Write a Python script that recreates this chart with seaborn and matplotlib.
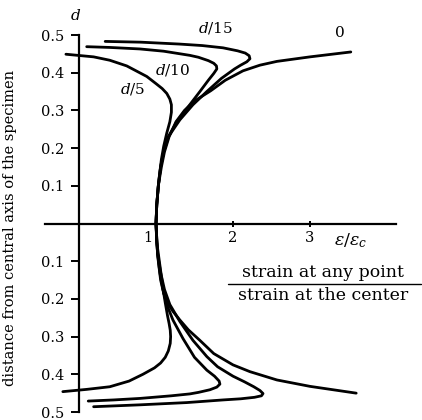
import matplotlib
matplotlib.use("Agg")
import matplotlib.pyplot as plt
import matplotlib.transforms as mtransforms
import seaborn as sns

# ---- data ----
# curve "0" (uniform case)
c0_x = [3.60, 3.00, 2.57, 2.22, 2.00, 1.75, 1.57, 1.42, 1.31, 1.22, 1.15, 1.10, 1.06, 1.03, 1.01, 1.00,
        1.01, 1.03, 1.07, 1.11, 1.17, 1.26, 1.37, 1.50, 1.71, 1.90, 2.13, 2.35, 2.57, 3.00, 3.53]
c0_y = [-0.450, -0.432, -0.415, -0.393, -0.375, -0.345, -0.310, -0.282, -0.256, -0.233, -0.21, -0.185, -0.15, -0.10, -0.05, 0.0,
        0.05, 0.10, 0.15, 0.19, 0.23, 0.27, 0.30, 0.325, 0.352, 0.380, 0.405, 0.420, 0.430, 0.442, 0.455]

# curve d/15
c15_x = [0.19, 0.79, 1.40, 1.87, 2.10, 2.28, 2.37, 2.39, 2.35, 2.27, 2.15, 2.00, 1.80, 1.66, 1.48, 1.31, 1.18, 1.11, 1.06, 1.02, 1.00,
         1.01, 1.03, 1.06, 1.10, 1.16, 1.31, 1.48, 1.66, 1.85, 2.02, 2.10, 2.18, 2.22, 2.21, 2.16, 2.06, 1.87, 1.60, 1.30, 0.80, 0.34]
c15_y = [-0.486, -0.481, -0.475, -0.468, -0.465, -0.461, -0.457, -0.451, -0.443, -0.433, -0.420, -0.405, -0.380, -0.353, -0.31, -0.26, -0.215, -0.175, -0.13, -0.08, 0.0,
         0.05, 0.10, 0.15, 0.19, 0.23, 0.275, 0.315, 0.350, 0.385, 0.410, 0.420, 0.429, 0.437, 0.445, 0.452, 0.458, 0.466, 0.472, 0.476, 0.481, 0.483]

# curve d/10
c10_x = [0.12, 0.45, 0.79, 1.20, 1.44, 1.55, 1.70, 1.79, 1.83, 1.82, 1.76, 1.66, 1.50, 1.35, 1.22, 1.14, 1.09, 1.05, 1.02, 1.00,
         1.01, 1.03, 1.06, 1.10, 1.16, 1.27, 1.42, 1.57, 1.68, 1.75, 1.79, 1.785, 1.75, 1.68, 1.55, 1.44, 1.10, 0.79, 0.40, 0.10]
c10_y = [-0.471, -0.468, -0.464, -0.457, -0.452, -0.448, -0.441, -0.434, -0.426, -0.418, -0.405, -0.389, -0.355, -0.305, -0.256, -0.215, -0.175, -0.13, -0.08, 0.0,
         0.05, 0.10, 0.15, 0.19, 0.23, 0.27, 0.31, 0.35, 0.38, 0.398, 0.410, 0.418, 0.425, 0.432, 0.441, 0.446, 0.457, 0.463, 0.467, 0.469]

# curve d/5
c5_x = [-0.21, 0.10, 0.40, 0.65, 0.83, 0.98, 1.06, 1.12, 1.16, 1.185, 1.19, 1.185, 1.17, 1.15, 1.12, 1.10, 1.07, 1.04, 1.01, 1.00,
        1.01, 1.04, 1.07, 1.10, 1.14, 1.18, 1.20, 1.20, 1.18, 1.14, 1.08, 1.00, 0.88, 0.62, 0.40, 0.19, -0.17]
c5_y = [-0.446, -0.440, -0.433, -0.418, -0.400, -0.383, -0.370, -0.355, -0.338, -0.318, -0.300, -0.283, -0.265, -0.245, -0.21, -0.185, -0.14, -0.095, -0.05, 0.0,
        0.05, 0.12, 0.17, 0.205, 0.24, 0.27, 0.295, 0.315, 0.330, 0.345, 0.358, 0.371, 0.390, 0.418, 0.433, 0.442, 0.449]

curve_labels = ["0", "$d$/15", "$d$/10", "$d$/5"]
label_x = [3.39, 1.77, 1.22, 0.70]
label_y = [0.505, 0.519, 0.407, 0.357]

y_ticks = [-0.5, -0.4, -0.3, -0.2, -0.1, 0.1, 0.2, 0.3, 0.4, 0.5]
y_ticklabels = ["0.5", "0.4", "0.3", "0.2", "0.1", "0.1", "0.2", "0.3", "0.4", "0.5"]
x_ticks = [1, 2, 3]
x_ticklabels = ["1", "2", "3"]

ylabel = "distance from central axis of the specimen"
frac_top = "strain at any point"
frac_bottom = "strain at the center"

# ---- style ----
sns.set_theme(style="white")
plt.rcParams["font.family"] = ["DejaVu Serif"]
plt.rcParams["mathtext.fontset"] = "dejavuserif"
plt.rcParams["text.color"] = "black"
plt.rcParams["axes.labelcolor"] = "black"

fig = plt.figure(figsize=(4.22, 4.20), dpi=100)
ax = fig.add_axes([0, 0, 1, 1])
ax.set_facecolor("white")
fig.patch.set_facecolor("white")

lw = 2.0
for xs, ys in [(c0_x, c0_y), (c15_x, c15_y), (c10_x, c10_y), (c5_x, c5_y)]:
    sns.lineplot(x=xs, y=ys, sort=False, estimator=None, color="black",
                 lw=lw, ax=ax, legend=False, solid_joinstyle="round",
                 solid_capstyle="round")

ax.set_xlim(-79 / 77, (422 - 79) / 77)
ax.set_ylim((223.5 - 420) / 377, 223.5 / 377)

# axes through the origin
for s in ["top", "right"]:
    ax.spines[s].set_visible(False)
ax.spines["left"].set_position(("data", 0))
ax.spines["bottom"].set_position(("data", 0))
ax.spines["left"].set_bounds(-0.5, 0.5)
ax.spines["bottom"].set_bounds(-0.44, 4.12)
for s in ["left", "bottom"]:
    ax.spines[s].set_color("black")
    ax.spines[s].set_linewidth(1.6)

ax.set_yticks(y_ticks)
ax.set_yticklabels(y_ticklabels)
ax.set_xticks(x_ticks)
ax.set_xticklabels(x_ticklabels)
ax.tick_params(axis="y", direction="out", length=5.5, width=1.4, pad=5,
               labelsize=10.5, colors="black", left=True)
ax.tick_params(axis="x", direction="inout", length=5, width=1.4, pad=3,
               labelsize=10.5, colors="black", bottom=True)
for lab in ax.get_xticklabels():
    if lab.get_text() == "1":
        lab.set_transform(lab.get_transform() +
                          mtransforms.ScaledTranslation(-8 / 100, 0, fig.dpi_scale_trans))
ax.grid(False)

ax.set_ylabel(ylabel, fontsize=10.5, color="black")
ax.yaxis.set_label_coords(17 / 422, (420 - 228) / 420)

# curve labels
for t, x, y in zip(curve_labels, label_x, label_y):
    ax.text(x, y, t, fontsize=11, ha="center", va="center", color="black")

ax.text(-0.05, 0.553, "$d$", fontsize=11, ha="center", va="center", color="black")
ax.text(3.53, -0.046, r"$\varepsilon/\varepsilon_c$", fontsize=12.5, ha="center",
        va="center", color="black")

ax.text(3.17, -0.131, frac_top, fontsize=12.5, ha="center", va="center", color="black")
ax.plot([1.935, 4.44], [-0.160, -0.160], color="black", lw=1.0)
ax.text(3.17, -0.190, frac_bottom, fontsize=12.5, ha="center", va="center", color="black")

fig.savefig("out.png", dpi=100, facecolor="white")
